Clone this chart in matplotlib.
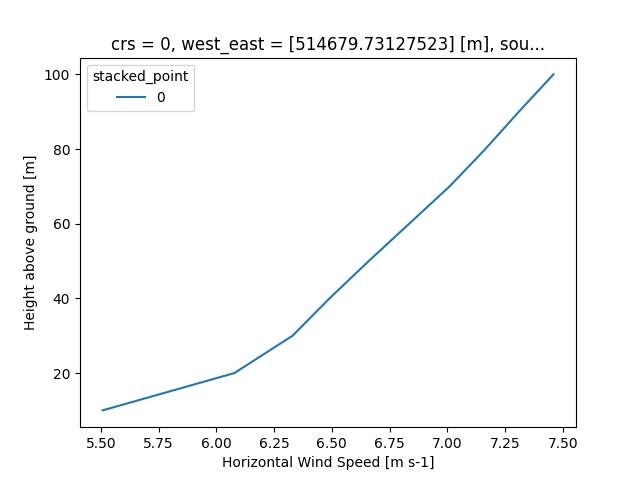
import matplotlib
matplotlib.use("Agg")
import matplotlib.pyplot as plt

height = [10, 20, 30, 40, 50, 60, 70, 80, 90, 100]
wind_speed = [5.507, 6.078, 6.33, 6.49, 6.66, 6.835, 7.01, 7.165, 7.31, 7.46]

fig, ax = plt.subplots(figsize=(6.4, 4.8), dpi=100)
ax.plot(wind_speed, height, label="0")
ax.set_xlabel("Horizontal Wind Speed [m s-1]")
ax.set_ylabel("Height above ground [m]")
ax.set_title("crs = 0, west_east = [514679.73127523] [m], sou...")
ax.legend(title="stacked_point", loc="upper left")
fig.savefig("out.png")
